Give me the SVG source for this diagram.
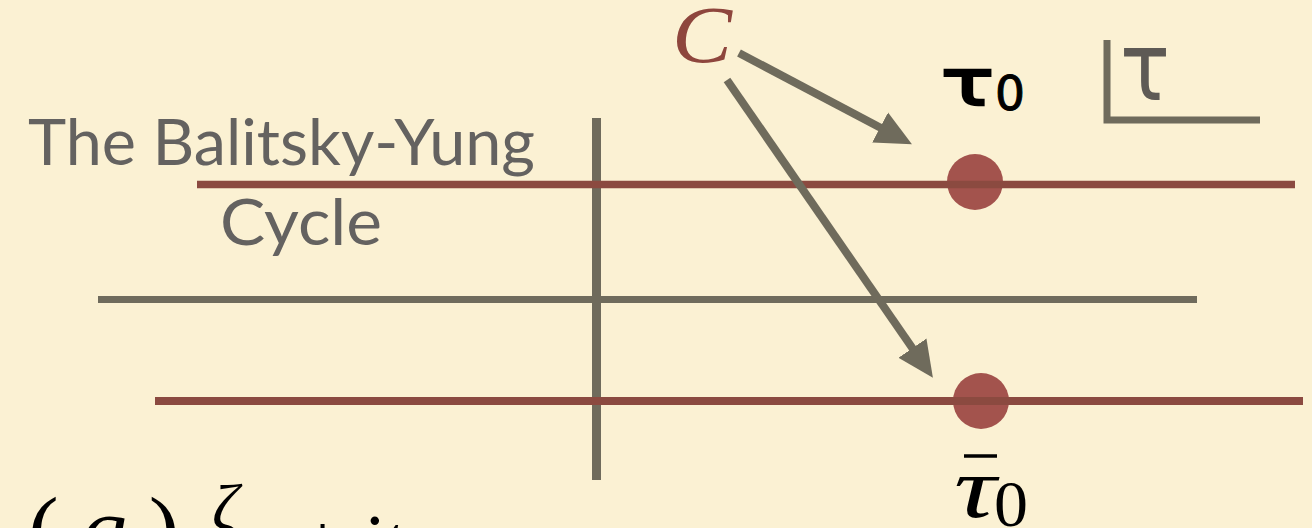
<svg xmlns="http://www.w3.org/2000/svg" width="1312" height="528" viewBox="0 0 1312 528">
<defs>
<style>
.gray{stroke:#6F6B5C;stroke-width:7;fill:none}
.red{stroke:#8B4A40;stroke-width:7.5;fill:none}
.dot{fill:#A3534D}
.title{font-family:Lato,"Open Sans",sans-serif;fill:#646260;font-size:64px}
.serif{font-family:"Liberation Serif","DejaVu Serif",serif}
.sans{font-family:"DejaVu Sans",Lato,sans-serif}
</style>
<marker id="ah" markerUnits="userSpaceOnUse" markerWidth="36" markerHeight="36" viewBox="0 0 36 36" refX="1" refY="18" orient="auto">
<path d="M0,1 L36,18 L0,35 Z" fill="#6F6B5C"/>
</marker>
</defs>
<rect width="1312" height="528" fill="#FBF1D3"/>
<g id="title">
<text class="title" x="28" y="165" textLength="507" lengthAdjust="spacingAndGlyphs">The Balitsky-Yung</text>
<text class="title" x="220" y="245" textLength="162" lengthAdjust="spacingAndGlyphs">Cycle</text>
</g>
<g id="axes">
<line class="gray" x1="98" y1="299.5" x2="1197" y2="299.5"/>
<line class="gray" x1="596.5" y1="118" x2="596.5" y2="480" style="stroke-width:9"/>
<path class="gray" d="M1107,40 V120 H1260"/>
</g>
<g id="dot-top"><circle class="dot" cx="975" cy="182" r="28"/></g>
<g id="dot-bottom"><circle class="dot" cx="981" cy="401" r="28"/></g>
<g id="lines">
<line class="red" x1="197" y1="184.5" x2="1295" y2="184.5"/>
<line class="red" x1="155" y1="401" x2="1303" y2="401" style="stroke-width:8"/>
</g>
<g id="connectors">
<line class="gray" x1="739" y1="53" x2="881" y2="128" style="stroke-width:8" marker-end="url(#ah)"/>
<line class="gray" x1="727" y1="80" x2="913" y2="349" style="stroke-width:8" marker-end="url(#ah)"/>
</g>
<g id="label-C">
<text class="serif" x="672" y="62" font-size="80" font-style="italic" fill="#8E463D" textLength="60" lengthAdjust="spacingAndGlyphs">C</text>
</g>
<g id="label-tau0">
<text class="sans" x="941" y="105" font-size="64" fill="#000" stroke="#000" stroke-width="2.5" textLength="53" lengthAdjust="spacingAndGlyphs">τ</text>
<text class="sans" x="995" y="110" font-size="48" fill="#000" stroke="#000" stroke-width="1" textLength="30" lengthAdjust="spacingAndGlyphs">0</text>
</g>
<g id="label-tau">
<text class="sans" x="1120" y="100" font-size="94" fill="#5E5A55" textLength="50" lengthAdjust="spacingAndGlyphs">τ</text>
</g>
<g id="label-taubar0">
<line x1="964" y1="456" x2="997" y2="456" stroke="#000" stroke-width="3.5"/>
<text class="serif" x="954" y="517" font-size="86" font-style="italic" fill="#000" textLength="42" lengthAdjust="spacingAndGlyphs">τ</text>
<text class="serif" x="994" y="526" font-size="66" fill="#000" textLength="34" lengthAdjust="spacingAndGlyphs">0</text>
</g>
<g id="formula">
<text class="serif" x="28" y="560" font-size="92" fill="#000">(<tspan font-style="italic" dx="22">q</tspan><tspan dx="22">)</tspan></text>
<text class="serif" x="212" y="530" font-size="66" font-style="italic" fill="#000">ζ</text>
<text class="serif" x="300" y="570" font-size="80" fill="#000">+<tspan font-style="italic" dx="14">it</tspan></text>
</g>
</svg>
